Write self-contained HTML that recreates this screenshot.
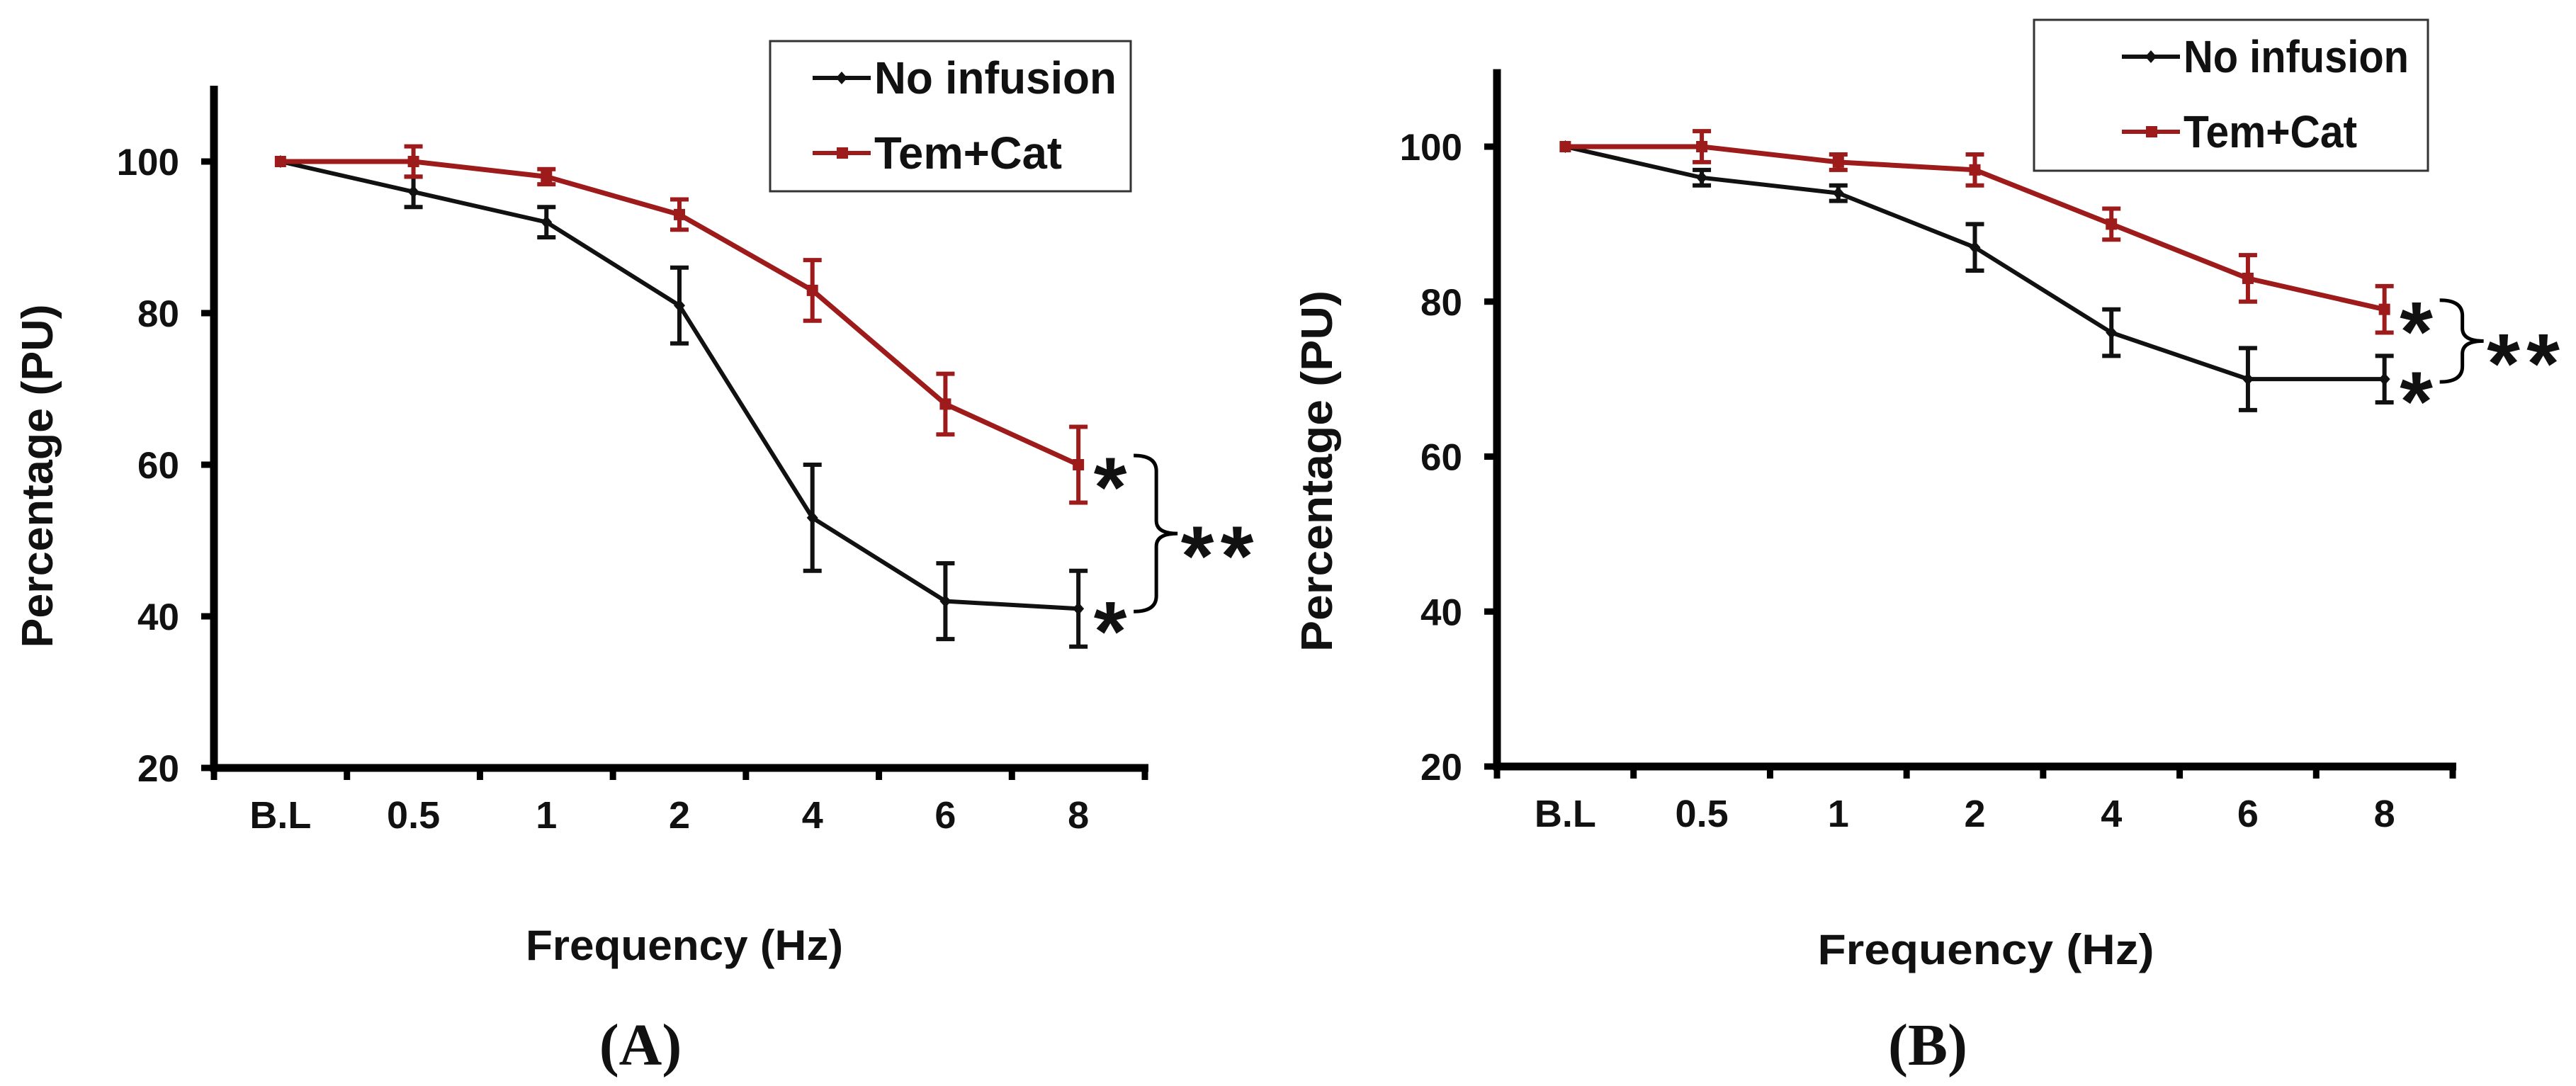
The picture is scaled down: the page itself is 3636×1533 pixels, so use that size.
<!DOCTYPE html>
<html><head><meta charset="utf-8">
<style>
html,body{margin:0;padding:0;background:#fff;}
svg{display:block;}
text{font-family:"Liberation Sans",Arial,sans-serif;font-weight:bold;fill:#111;}
</style></head>
<body>
<svg id="fig" width="3636" height="1533" viewBox="0 0 3636 1533" xmlns="http://www.w3.org/2000/svg"></svg>
<script>
const categories = ["B.L","0.5","1","2","4","6","8"];
const yTicks = [20,40,60,80,100];
const legendLabels = ["No infusion","Tem+Cat"];
const aNoInfusion = [100,96,92,81,53,42,41];
const aNoInfusionErr = [0,2,2,5,7,5,5];
const aTemCat = [100,100,98,93,83,68,60];
const aTemCatErr = [0,2,1,2,4,4,5];
const bNoInfusion = [100,96,94,87,76,70,70];
const bNoInfusionErr = [0,1,1,3,3,4,3];
const bTemCat = [100,100,98,97,90,83,79];
const bTemCatErr = [0,2,1,2,2,3,3];

const NS="http://www.w3.org/2000/svg";
const svg=document.getElementById('fig');
function mk(tag,attrs,parent){const e=document.createElementNS(NS,tag);for(const k in attrs)e.setAttribute(k,attrs[k]);(parent||svg).appendChild(e);return e;}
const RED="#9e1b1b";

function star(g,x,cy,name){
  const s=mk('text',{x:x,y:cy+68,'text-anchor':'middle','font-size':120,style:'font-weight:bold;font-family:"Liberation Sans",sans-serif'},g);
  s.textContent='*';
  
  
}

function panel(p){
  const g=mk('g',{});
  
  
  const band=(p.x1-p.x0)/categories.length;
  const xs=i=>p.x0+band*(i+0.5);
  const ys=v=>p.y20-(v-20)/20*p.step;
  const yTop=ys(110);
  const ya=mk('line',{x1:p.x0,y1:yTop,x2:p.x0,y2:p.y20+5,stroke:'#000','stroke-width':11},g);
  
  const xa=mk('line',{x1:p.x0-5,y1:p.y20,x2:p.x1+5,y2:p.y20,stroke:'#000','stroke-width':11},g);
  
  yTicks.forEach(t=>{
    const y=ys(t);
    mk('line',{x1:p.x0-18,y1:y,x2:p.x0,y2:y,stroke:'#000','stroke-width':9},g);
    const tx=mk('text',{x:p.x0-49,y:y+19,'text-anchor':'end','font-size':53},g);
    tx.textContent=t;
    
  });
  for(let i=0;i<=categories.length;i++){
    const x=p.x0+band*i;
    mk('line',{x1:x,y1:p.y20,x2:x,y2:p.y20+17,stroke:'#000','stroke-width':9},g);
  }
  categories.forEach((c,i)=>{
    const tx=mk('text',{x:xs(i),y:p.y20+85,'text-anchor':'middle','font-size':54},g);
    tx.textContent=c;
    
  });
  const series=[[p.black,p.blackErr,'#111',6,'diamond'],[p.red,p.redErr,RED,7,'square']];
  series.forEach(([vals,errs,col,w,mkr],si)=>{
    const pts=vals.map((v,i)=>xs(i)+','+ys(v)).join(' ');
    const pl=mk('polyline',{points:pts,fill:'none',stroke:col,'stroke-width':w,'stroke-linejoin':'round'},g);
    
    
    vals.forEach((v,i)=>{
      const x=xs(i),e=errs[i];
      if(e>0){
        mk('line',{x1:x,y1:ys(v+e),x2:x,y2:ys(v-e),stroke:col,'stroke-width':6},g);
        mk('line',{x1:x-13,y1:ys(v+e),x2:x+13,y2:ys(v+e),stroke:col,'stroke-width':6},g);
        mk('line',{x1:x-13,y1:ys(v-e),x2:x+13,y2:ys(v-e),stroke:col,'stroke-width':6},g);
      }
      let m;
      if(mkr==='square') m=mk('rect',{x:x-8,y:ys(v)-8,width:16,height:16,fill:col},g);
      else m=mk('polygon',{points:`${x},${ys(v)-9} ${x+8},${ys(v)} ${x},${ys(v)+9} ${x-8},${ys(v)}`,fill:col},g);
      
      
    });
  });
  const last=categories.length-1;
  const px=xs(last);
  const yr=ys(p.red[last]), yb=ys(p.black[last]);
  star(g,px+45,yr+5,'red-star');
  star(g,px+45,yb+5,'black-star');
  const top=yr-13, bot=yb+4, mid=(top+bot)/2;
  const a=px+78, v=px+110, t=px+140;
  const br=mk('path',{d:`M${a},${top} Q${v},${top} ${v},${top+22} L${v},${mid-18} Q${v},${mid} ${t},${mid} Q${v},${mid} ${v},${mid+18} L${v},${bot-22} Q${v},${bot} ${a},${bot}`,fill:'none',stroke:'#000','stroke-width':5},g);
  
  star(g,t+28,mid+5,'double-star-1');
  star(g,t+84,mid+5,'double-star-2');
  const lg=mk('g',{},g);
  
  mk('rect',{x:p.lx,y:p.ly,width:p.lw,height:p.lh,fill:'#fff',stroke:'#333','stroke-width':3},lg);
  legendLabels.forEach((lab,i)=>{
    const y=p.ly+52+i*106;const col=i?RED:'#111';
    const L=p.lineX;
    mk('line',{x1:L,y1:y,x2:L+82,y2:y,stroke:col,'stroke-width':6},lg);
    if(i) mk('rect',{x:L+34,y:y-8,width:16,height:16,fill:col},lg);
    else mk('polygon',{points:`${L+41},${y-9} ${L+49},${y} ${L+41},${y+9} ${L+33},${y}`,fill:col},lg);
    const t=mk('text',{x:L+87,y:y+22,'font-size':64,textLength:p.legLen[i],lengthAdjust:'spacingAndGlyphs'},lg);
    t.textContent=lab;
    
  });
  const xt=mk('text',{x:p.xtX,y:p.xtY,'text-anchor':'middle','font-size':60,textLength:p.xtLen,lengthAdjust:'spacingAndGlyphs'},g);
  xt.textContent='Frequency  (Hz)';
  
  const yt=mk('text',{x:0,y:0,'text-anchor':'middle','font-size':62,textLength:p.ytLen,lengthAdjust:'spacingAndGlyphs',transform:`translate(${p.ytX},${p.ytY}) rotate(-90)`},g);
  yt.textContent='Percentage  (PU)';
  
  const pl=mk('text',{x:p.plX,y:p.plY,'text-anchor':'middle','font-size':84,style:'font-family:"Liberation Serif",serif;font-weight:bold'},g);
  pl.textContent=p.label;
  
}

panel({name:'panel-a',x0:302,x1:1616,y20:1084,step:214,black:aNoInfusion,blackErr:aNoInfusionErr,red:aTemCat,redErr:aTemCatErr,
  lx:1087,ly:58,lw:509,lh:212,lineX:1147,legLen:[342,265],xtX:966,xtY:1355,xtLen:448,ytX:74,ytY:672,ytLen:485,plX:904,plY:1503,label:'(A)'});
panel({name:'panel-b',x0:2113,x1:3462,y20:1082,step:218.75,black:bNoInfusion,blackErr:bNoInfusionErr,red:bTemCat,redErr:bTemCatErr,
  lx:2871,ly:28,lw:556,lh:213,lineX:2995,legLen:[318,245],xtX:2803,xtY:1361,xtLen:475,ytX:1880,ytY:665,ytLen:510,plX:2721,plY:1503,label:'(B)'});
</script>
</body></html>
